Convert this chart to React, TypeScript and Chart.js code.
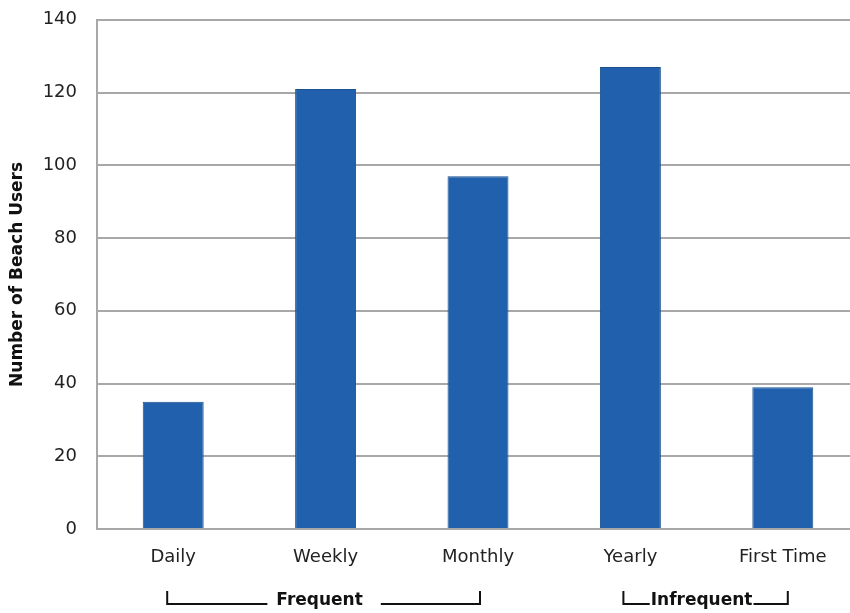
import React, { useEffect, useRef } from "react";
import { Chart, registerables } from "chart.js";

Chart.register(...registerables);

const categories = ["Daily", "Weekly", "Monthly", "Yearly", "First Time"];
const beachUsers = [35, 121, 97, 127, 39];
const yTicks = [0, 20, 40, 60, 80, 100, 120, 140];
const groupLabels = ["Frequent", "Infrequent"];
const groupFrom = [0, 3];
const groupTo = [2, 4];

const FONT = "'DejaVu Sans', sans-serif";
const SHIFT = 11;

const bracketPlugin = {
  id: "brackets",
  afterDraw(chart: any) {
    const { ctx } = chart;
    const x = chart.scales.x;
    const offsetsL = [-6, -7];
    const offsetsR = [2, 5];
    const top = 591 + SHIFT;
    const bottom = 604 + SHIFT;
    ctx.save();
    ctx.strokeStyle = "#111";
    ctx.fillStyle = "#111";
    ctx.lineWidth = 2;
    ctx.font = "bold 17px " + FONT;
    ctx.textBaseline = "middle";
    ctx.textAlign = "center";
    groupLabels.forEach((label, i) => {
      const x1 = x.getPixelForValue(groupFrom[i]) + offsetsL[i];
      const x2 = x.getPixelForValue(groupTo[i]) + offsetsR[i];
      const w = ctx.measureText(label).width;
      const cx = (x1 + x2) / 2 - 4;
      const gapL = i === 0 ? 9 : 1;
      const gapR = i === 0 ? 18 : 1;
      ctx.beginPath();
      ctx.moveTo(x1, top);
      ctx.lineTo(x1, bottom);
      ctx.lineTo(cx - w / 2 - gapL, bottom);
      ctx.moveTo(cx + w / 2 + gapR, bottom);
      ctx.lineTo(x2, bottom);
      ctx.lineTo(x2, top);
      ctx.stroke();
      ctx.fillText(label, cx, bottom - 3);
    });
    ctx.restore();
  },
};

export default function App() {
  const ref = useRef<HTMLCanvasElement>(null);
  useEffect(() => {
    document.body.style.margin = "0";
    document.body.style.overflow = "hidden";
    const chart = new Chart(ref.current!, {
      type: "bar",
      data: {
        labels: categories,
        datasets: [
          {
            data: beachUsers,
            backgroundColor: "#2060AC",
            borderColor: "#1A528F",
            borderWidth: 1,
            categoryPercentage: 0.8,
            barPercentage: 0.5,
          },
        ],
      },
      options: {
        animation: false,
        responsive: false,
        layout: { padding: { top: 0, right: 0, bottom: 0, left: 0 } },
        plugins: { legend: { display: false }, tooltip: { enabled: false } },
        scales: {
          x: {
            grid: { display: false, drawTicks: false },
            border: { display: false },
            ticks: { color: "#222", font: { family: FONT, size: 18 }, padding: 18, maxRotation: 0 },
            afterFit(scale: any) {
              scale.height = 84;
            },
          },
          y: {
            min: 0,
            max: 140,
            afterBuildTicks(scale: any) {
              scale.ticks = yTicks.map((v) => ({ value: v }));
            },
            grid: { color: "#A8A8A8", lineWidth: 2, drawTicks: false },
            border: { display: true, color: "#A8A8A8", width: 2 },
            ticks: { color: "#222", font: { family: FONT, size: 18 }, padding: 20 },
            title: {
              display: true,
              text: "Number of Beach Users",
              color: "#111",
              font: { family: FONT, size: 17, weight: "bold" },
              padding: { top: 7, bottom: 0 },
            },
            afterFit(scale: any) {
              scale.width = 97;
            },
          },
        },
      },
      plugins: [bracketPlugin],
    });
    return () => chart.destroy();
  }, []);
  return (
    <div style={{ width: 850, height: 613, overflow: "hidden" }}>
      <canvas
        ref={ref}
        width={859}
        height={613 + SHIFT}
        style={{ display: "block", marginTop: -SHIFT }}
      />
    </div>
  );
}
